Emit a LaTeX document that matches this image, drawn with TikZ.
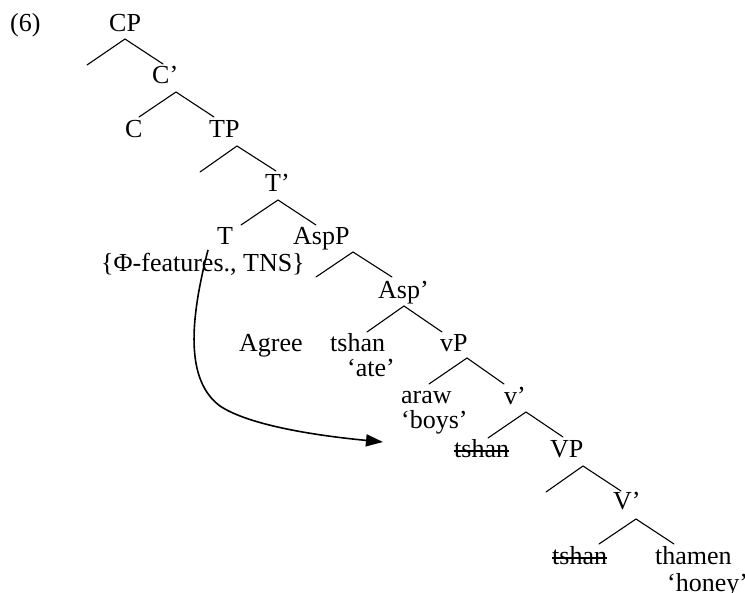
\documentclass[tikz,border=0pt]{standalone}
\usepackage{fontspec}
\setmainfont{Liberation Serif}
\usetikzlibrary{arrows.meta}

\tikzset{
  lbl/.style={anchor=base west, inner sep=0pt, font=\fontsize{26}{31}\selectfont},
  branch/.style={line width=1.1pt, line cap=round, line join=miter},
  strike/.style={line width=1.5pt},
  agreearrow/.style={line width=1.6pt, -{Triangle[length=17pt,width=12pt]}}
}

\begin{document}
\begin{tikzpicture}[x=1pt, y=-1pt]
  \useasboundingbox (0,0) rectangle (745,593);

  % labels
  \node[lbl] (ex)     at (10,32)   {(6)};
  \node[lbl] (cp)     at (109,32)  {CP};
  \node[lbl] (cbar)   at (152,84)  {C’};
  \node[lbl] (c)      at (125,138) {C};
  \node[lbl] (tp)     at (209,138) {TP};
  \node[lbl] (tbar)   at (265,192) {T’};
  \node[lbl] (t)      at (217,245) {T};
  \node[lbl] (aspp)   at (293,245) {AspP};
  \node[lbl] (feat)   at (101,272) {\{Φ-features., TNS\}};
  \node[lbl] (aspbar) at (378,299) {Asp’};
  \node[lbl] (agree)  at (239,352) {Agree};
  \node[lbl] (tshanA) at (330,352) {tshan};
  \node[lbl] (ate)    at (347,377) {‘ate’};
  \node[lbl] (vp)     at (440,352) {vP};
  \node[lbl] (araw)   at (401,404) {araw};
  \node[lbl] (boys)   at (401,429) {‘boys’};
  \node[lbl] (vbar)   at (504,405) {v’};
  \node[lbl] (tshanB) at (454,458) {tshan};
  \node[lbl] (VP)     at (550,458) {VP};
  \node[lbl] (Vbar)   at (613,510) {V’};
  \node[lbl] (tshanC) at (552,565) {tshan};
  \node[lbl] (thamen) at (655,565) {thamen};
  \node[lbl] (honey)  at (667,591) {‘honey’};

  % struck-out copies of the verb
  \draw[strike] ([yshift=7pt]tshanB.base west) -- ([yshift=7pt]tshanB.base east);
  \draw[strike] ([yshift=7pt]tshanC.base west) -- ([yshift=7pt]tshanC.base east);

  % branch points: apex, left foot, right foot
  \coordinate (cp-a)  at (125,39);  \coordinate (cp-l)  at (87,65);   \coordinate (cp-r)  at (163,64);
  \coordinate (cb-a)  at (176,92);  \coordinate (cb-l)  at (139,117); \coordinate (cb-r)  at (214,117);
  \coordinate (tp-a)  at (237,146); \coordinate (tp-l)  at (200,172); \coordinate (tp-r)  at (276,171);
  \coordinate (tb-a)  at (278,200); \coordinate (tb-l)  at (241,225); \coordinate (tb-r)  at (316,225);
  \coordinate (ap-a)  at (353,252); \coordinate (ap-l)  at (316,277); \coordinate (ap-r)  at (392,277);
  \coordinate (ab-a)  at (404,306); \coordinate (ab-l)  at (367,332); \coordinate (ab-r)  at (442,332);
  \coordinate (vp-a)  at (467,358); \coordinate (vp-l)  at (429,384); \coordinate (vp-r)  at (504,384);
  \coordinate (vb-a)  at (526,412); \coordinate (vb-l)  at (488,438); \coordinate (vb-r)  at (563,437);
  \coordinate (VP-a)  at (583,466); \coordinate (VP-l)  at (546,492); \coordinate (VP-r)  at (621,491);
  \coordinate (Vb-a)  at (636,519); \coordinate (Vb-l)  at (599,544); \coordinate (Vb-r)  at (674,544);

  \foreach \b in {cp,cb,tp,tb,ap,ab,vp,vb,VP,Vb}
    \draw[branch] (\b-l) -- (\b-a) -- (\b-r);

  % Agree: from the features on T down to the goal
  \coordinate (probe) at (208,250);
  \coordinate (goal)  at (383,442);
  \draw[agreearrow] (probe)
    .. controls (190,320) and (185,380) .. (220,406)
    .. controls (250,426) and (320,436) .. (goal);
\end{tikzpicture}
\end{document}
